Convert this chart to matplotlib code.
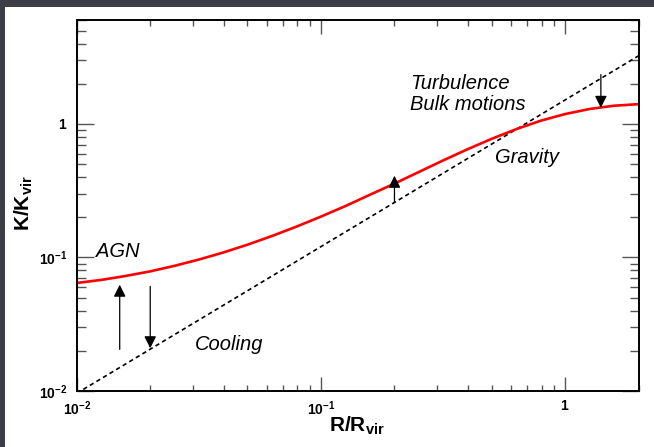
import matplotlib
matplotlib.use('Agg')
import matplotlib.pyplot as plt
from matplotlib.patches import Rectangle
from matplotlib.ticker import LogLocator, FixedLocator, NullFormatter

plt.rcParams['font.family'] = ['Liberation Sans', 'DejaVu Sans']
plt.rcParams['mathtext.fontset'] = 'custom'
plt.rcParams['mathtext.rm'] = 'Liberation Sans'
plt.rcParams['mathtext.bf'] = 'Liberation Sans:bold'
plt.rcParams['mathtext.it'] = 'Liberation Sans:italic'

# red entropy profile
r_model = [0.01, 0.0126, 0.0158, 0.02, 0.0251, 0.0316, 0.0398, 0.0501, 0.0631, 0.0794,
           0.1, 0.126, 0.158, 0.2, 0.251, 0.316, 0.398, 0.501, 0.631, 0.794,
           1.0, 1.26, 1.58, 2.0]
k_model = [0.0644, 0.0679, 0.0726, 0.0787, 0.0865, 0.0964, 0.1089, 0.1247, 0.1449, 0.1702,
           0.2023, 0.2427, 0.2938, 0.3573, 0.4355, 0.5321, 0.6457, 0.7745, 0.9141, 1.057,
           1.186, 1.294, 1.368, 1.406]

# dashed gravity-only line (end points)
r_grav = [0.01, 2.0]
k_grav = [0.0096, 3.24]

# arrows: position, start, tip
arrow_r = [0.015, 0.02, 0.2, 1.4]
arrow_from = [0.0205, 0.0607, 0.258, 2.34]
arrow_to = [0.0625, 0.0209, 0.409, 1.32]

# text labels
label_text = ['AGN', 'Cooling', 'Turbulence', 'Bulk motions', 'Gravity']
label_r = [0.012, 0.0305, 0.232, 0.232, 0.515]
label_k = [0.101, 0.0203, 1.837, 1.262, 0.509]

major_ticks = [0.01, 0.1, 1]
major_labels = [r'$\mathbf{10^{-2}}$', r'$\mathbf{10^{-1}}$', r'$\mathbf{1}$']

fig = plt.figure(figsize=(6.54, 4.47), dpi=100)
fig.patch.set_facecolor('white')
ax = fig.add_axes([76.7 / 654, 56 / 447, 562 / 654, 371 / 447])

# slide background strips (screenshot border)
fig.patches.append(Rectangle((0, 1 - 7 / 447), 1, 7 / 447, transform=fig.transFigure,
                             facecolor='#3b3e44', edgecolor='none', zorder=-1))
fig.patches.append(Rectangle((0, 0), 5 / 654, 1, transform=fig.transFigure,
                             facecolor='#3b3e44', edgecolor='none', zorder=-1))

ax.plot(r_grav, k_grav, color='black', lw=1.2, ls=(0, (2.6, 2.0)))
ax.plot(r_model, k_model, color='red', lw=1.9, solid_capstyle='butt')

for r, k0, k1 in zip(arrow_r, arrow_from, arrow_to):
    ax.annotate('', xy=(r, k1), xytext=(r, k0),
                arrowprops=dict(arrowstyle='-|>', color='black', lw=0.9,
                                mutation_scale=18, shrinkA=0, shrinkB=0))

for t, r, k in zip(label_text, label_r, label_k):
    ax.text(r, k, t, fontsize=14.5, style='italic', ha='left', va='baseline')

ax.set_xscale('log')
ax.set_yscale('log')
ax.set_xlim(0.01, 2.0)
ax.set_ylim(0.01, 6.0)

for axis in (ax.xaxis, ax.yaxis):
    axis.set_major_locator(FixedLocator(major_ticks))
    axis.set_minor_locator(LogLocator(base=10, subs=range(2, 10), numticks=20))
    axis.set_minor_formatter(NullFormatter())
ax.set_xticklabels(major_labels)
ax.set_yticklabels(major_labels)

ax.tick_params(which='both', direction='in', top=True, right=True,
               color='#555555', width=1, labelsize=10)
ax.tick_params(axis='x', which='major', length=10, pad=6)
ax.tick_params(axis='x', which='minor', length=4.5)
ax.tick_params(axis='y', which='major', length=12, pad=7)
ax.tick_params(axis='y', which='minor', length=6.5)

for s in ax.spines.values():
    s.set_linewidth(1.4)

fig.text(357 / 654, (447 - 426) / 447, r'$\mathbf{R/R_{vir}}$', fontsize=15,
         ha='center', va='center')
fig.text(23.5 / 654, (447 - 203) / 447, r'$\mathbf{K/K_{vir}}$', fontsize=15,
         ha='center', va='center', rotation=90)

fig.savefig('out.png', dpi=100)
